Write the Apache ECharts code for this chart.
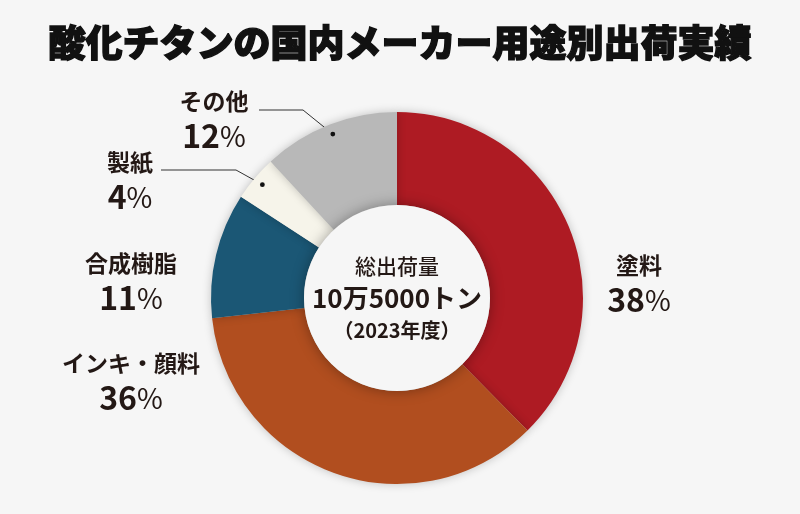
<!DOCTYPE html>
<html lang="ja">
<head>
<meta charset="UTF-8">
<title>酸化チタンの国内メーカー用途別出荷実績</title>
<script src="https://cdn.jsdelivr.net/npm/echarts@6.0.0/dist/echarts.min.js"></script>
<style>
  html, body { margin: 0; padding: 0; background: #f6f6f6; }
  #main { width: 800px; height: 514px; }
</style>
</head>
<body>
<div id="main"></div>
<script>
// 用途別の構成比（%）
var categories = ['塗料', 'インキ・顔料', '合成樹脂', '製紙', 'その他'];
var shares = [38, 36, 11, 4, 12];
var sliceColors = ['#ae1b23', '#b14e1f', '#1b5775', '#f6f4ea', '#b8b8b8'];
var centerLines = ['総出荷量', '10万5000トン', '（2023年度）'];

var FONT = '"Noto Sans CJK JP", "Noto Sans", sans-serif';
var INK = '#231815';
var cx = 397, cy = 298, rIn = 93, rOut = 186;

// ラベルの置き場所（x, y）と引き出し線の折れ点
var labelPos = [
  { x: 639, y: 284 },
  { x: 131, y: 382 },
  { x: 131, y: 282 },
  { x: 130, y: 181, elbow: [[161, 170], [236, 170]] },
  { x: 214, y: 120, elbow: [[259, 110], [303, 110]] }
];

var total = shares.reduce(function (a, b) { return a + b; }, 0);

// スライス中央の角度の点（12時から時計回り）
function midPoint(i, r) {
  var before = 0;
  for (var k = 0; k < i; k++) before += shares[k];
  var a = (before + shares[i] / 2) / total * Math.PI * 2;
  return [cx + r * Math.sin(a), cy - r * Math.cos(a)];
}

var chart = echarts.init(document.getElementById('main'));

var data = categories.map(function (name, i) {
  return {
    name: name,
    value: shares[i],
    itemStyle: { color: sliceColors[i] },
    labelLine: { show: !!labelPos[i].elbow }
  };
});

var dots = [];
labelPos.forEach(function (p, i) {
  if (!p.elbow) return;
  var d = midPoint(i, 176);
  dots.push({
    type: 'circle',
    z: 100,
    shape: { cx: d[0], cy: d[1], r: 2.4 },
    style: { fill: '#111' }
  });
});

var option = {
  backgroundColor: '#f6f6f6',
  animation: false,
  title: {
    text: '酸化チタンの国内メーカー用途別出荷実績',
    left: 'center',
    top: 19,
    textStyle: {
      fontFamily: FONT, fontSize: 37, fontWeight: 900, color: '#111',
      textBorderColor: '#111', textBorderWidth: 1.4
    }
  },
  graphic: dots,
  series: [
    {
      type: 'pie',
      center: [cx, cy],
      radius: [rIn, rOut],
      startAngle: 90,
      clockwise: true,
      silent: true,
      itemStyle: {
        shadowBlur: 10,
        shadowColor: 'rgba(0,0,0,0.22)'
      },
      label: {
        show: true,
        position: 'outside',
        formatter: function (p) {
          return '{n|' + p.name + '}\n{p|' + p.value + '}{s|%}';
        },
        rich: {
          n: { fontFamily: FONT, fontSize: 23, fontWeight: 'bold', color: INK, lineHeight: 32, align: 'center' },
          p: { fontFamily: FONT, fontSize: 32, fontWeight: 'bold', color: INK, lineHeight: 38 },
          s: { fontFamily: FONT, fontSize: 28, fontWeight: 'normal', color: INK, lineHeight: 38 }
        }
      },
      labelLine: {
        lineStyle: { color: '#333', width: 1 }
      },
      labelLayout: function (params) {
        var p = labelPos[params.dataIndex];
        var out = { x: p.x, y: p.y, align: 'center', verticalAlign: 'middle' };
        if (p.elbow) {
          out.labelLinePoints = [p.elbow[0], p.elbow[1], midPoint(params.dataIndex, 176)];
        }
        return out;
      },
      data: data
    },
    {
      type: 'pie',
      center: [cx, cy],
      radius: [0, rIn],
      silent: true,
      z: 3,
      itemStyle: {
        color: '#f6f6f6',
        shadowBlur: 14,
        shadowColor: 'rgba(0,0,0,0.35)'
      },
      label: {
        show: true,
        position: 'center',
        formatter: '{a|' + centerLines[0] + '}\n{b|' + centerLines[1] + '}\n{c|' + centerLines[2] + '}',
        rich: {
          a: { fontFamily: FONT, fontSize: 21, fontWeight: 500, color: INK, lineHeight: 32 },
          b: { fontFamily: FONT, fontSize: 26, fontWeight: 'bold', color: INK, lineHeight: 32 },
          c: { fontFamily: FONT, fontSize: 20, fontWeight: 'bold', color: INK, lineHeight: 32 }
        }
      },
      labelLine: { show: false },
      data: [{ value: 1, name: '' }]
    }
  ]
};

chart.setOption(option);
</script>
</body>
</html>
